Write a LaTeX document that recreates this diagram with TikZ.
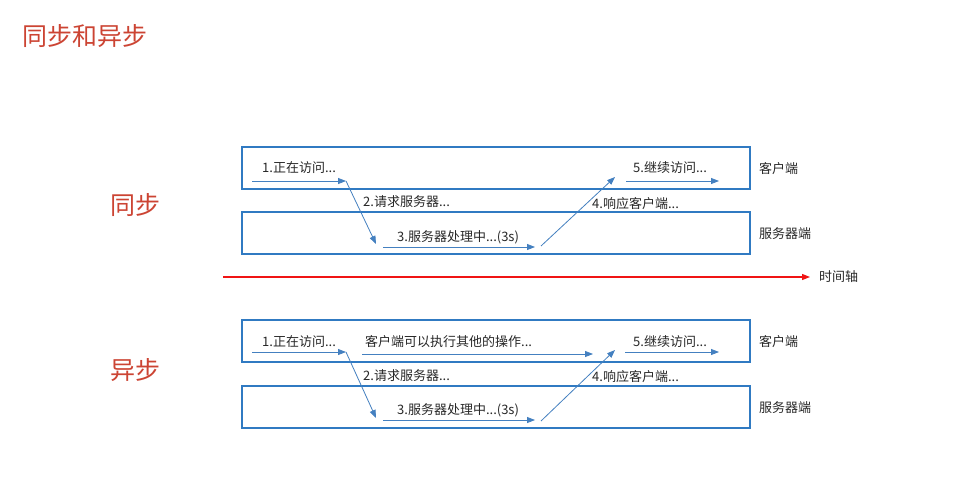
\documentclass[tikz,border=0pt]{standalone}
\usepackage{fontspec}
\setmainfont{Noto Sans CJK SC}
\usetikzlibrary{arrows.meta}
\definecolor{boxblue}{RGB}{48,122,194}
\definecolor{arrblue}{RGB}{68,128,192}
\definecolor{titlered}{RGB}{204,68,51}
\definecolor{axisred}{RGB}{240,20,20}
\definecolor{txt}{RGB}{40,40,40}
\begin{document}
\begin{tikzpicture}[x=1pt,y=-1pt,
  lane/.style={draw=boxblue,line width=2.8pt,minimum width=508pt,minimum height=42pt,inner sep=0pt},
  lbl/.style={font=\fontsize{13}{15}\selectfont,text=txt,inner sep=0pt,anchor=west},
  flow/.style={draw=arrblue,line width=0.8pt,-{Triangle[length=8pt,width=6pt]}},
  bigred/.style={font=\fontsize{25}{29}\selectfont,text=titlered,inner sep=0pt,anchor=west}]
\useasboundingbox[fill=white] (0,0) rectangle (965,501);

\node[bigred] (title) at (22,36) {同步和异步};

% ---------- synchronous ----------
\node[bigred] (sync) at (110,205) {同步};
\node[lane] (sc) at (496,168) {};
\node[lane] (ss) at (496,233) {};
\node[lbl] (scl) at (759,169) {客户端};
\node[lbl] (ssl) at (759,234) {服务器端};

\coordinate (s1a) at (252,181);
\coordinate (s1b) at (346,181);
\coordinate (s2b) at (376,244);
\coordinate (s3a) at (383,247);
\coordinate (s3b) at (535,247);
\coordinate (s4a) at (541,246);
\coordinate (s4b) at (615,177);
\coordinate (s5a) at (626,181);
\coordinate (s5b) at (719,181);
\draw[flow] (s1a) -- (s1b);
\draw[flow] (s1b) -- (s2b);
\draw[flow] (s3a) -- (s3b);
\draw[flow] (s4a) -- (s4b);
\draw[flow] (s5a) -- (s5b);
\node[lbl] (st1) at (262,168) {1.正在访问...};
\node[lbl] (st2) at (363,202) {2.请求服务器...};
\node[lbl] (st3) at (397,237) {3.服务器处理中...(3s)};
\node[lbl] (st4) at (592,204) {4.响应客户端...};
\node[lbl] (st5) at (633,168) {5.继续访问...};

% ---------- time axis ----------
\coordinate (ta) at (223,277);
\coordinate (tb) at (810,277);
\node[lbl] (tl) at (819,277) {时间轴};
\draw[draw=axisred,line width=1.2pt,-{Triangle[length=8pt,width=6pt]}] (ta) -- (tb);

% ---------- asynchronous ----------
\node[bigred] (async) at (110,370) {异步};
\node[lane] (ac) at (496,341) {};
\node[lane] (as) at (496,407) {};
\node[lbl] (acl) at (759,342) {客户端};
\node[lbl] (asl) at (759,408) {服务器端};

\coordinate (a1a) at (252,352);
\coordinate (a1b) at (346,352);
\coordinate (a2b) at (376,418);
\coordinate (a3a) at (383,420);
\coordinate (a3b) at (535,420);
\coordinate (a4a) at (541,421);
\coordinate (a4b) at (615,350);
\coordinate (a5a) at (625,352);
\coordinate (a5b) at (719,352);
\coordinate (a6a) at (362,354);
\coordinate (a6b) at (593,354);
\draw[flow] (a1a) -- (a1b);
\draw[flow] (a1b) -- (a2b);
\draw[flow] (a3a) -- (a3b);
\draw[flow] (a4a) -- (a4b);
\draw[flow] (a5a) -- (a5b);
\draw[flow] (a6a) -- (a6b);
\node[lbl] (at1) at (262,342) {1.正在访问...};
\node[lbl] (at6) at (365,342) {客户端可以执行其他的操作...};
\node[lbl] (at2) at (363,376) {2.请求服务器...};
\node[lbl] (at3) at (397,410) {3.服务器处理中...(3s)};
\node[lbl] (at4) at (592,377) {4.响应客户端...};
\node[lbl] (at5) at (633,342) {5.继续访问...};
\end{tikzpicture}
\end{document}
